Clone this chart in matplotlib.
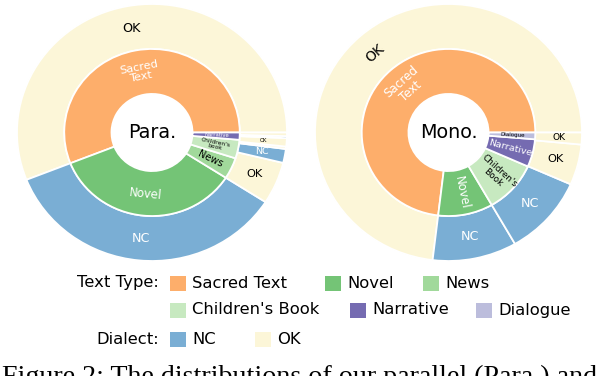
import matplotlib
matplotlib.use("Agg")
import matplotlib.pyplot as plt
from matplotlib.patches import Rectangle

# ---------------- data ----------------
type_names = ["Sacred Text", "Novel", "News", "Children's Book", "Narrative", "Dialogue"]
dialect_names = ["NC", "OK"]

# Parallel (Para.) corpus: inner ring = text type, outer ring = dialect split
para_types = ["Sacred Text", "Novel", "News", "Children's Book", "Narrative"]
para_type_vals = [56.0, 34.9, 4.1, 3.6, 1.4]
para_type_labels = ["Sacred\nText", "Novel", "News", "Children's\nbook", "Narrative"]
para_dialects = ["OK", "NC", "OK", "NC", "OK", "OK", "NC", "OK"]
para_dialect_vals = [56.0, 34.9, 5.3, 1.75, 0.3, 1.05, 0.25, 0.45]
para_dialect_labels = ["OK", "NC", "OK", "NC", "", "OK", "", ""]

# Monolingual (Mono.) corpus
mono_types = ["Sacred Text", "Novel", "Children's Book", "Narrative", "Dialogue"]
mono_type_vals = [73.1, 10.2, 10.05, 5.35, 1.3]
mono_type_labels = ["Sacred\nText", "Novel", "Children's\nBook", "Narrative", "Dialogue"]
mono_dialects = ["OK", "NC", "NC", "OK", "OK"]
mono_dialect_vals = [73.1, 10.2, 10.1, 5.1, 1.5]
mono_dialect_labels = ["OK", "NC", "NC", "OK", "OK"]

# ---------------- style ----------------
type_colors = {
    "Sacred Text": "#fdae6b",
    "Novel": "#74c476",
    "News": "#a1d99b",
    "Children's Book": "#c7e9c0",
    "Narrative": "#756bb1",
    "Dialogue": "#bcbddc",
}
type_text_colors = {
    "Sacred Text": "white", "Novel": "white", "News": "black",
    "Children's Book": "black", "Narrative": "white", "Dialogue": "black",
}
dialect_colors = {"NC": "#7aaed4", "OK": "#fcf6d8"}
dialect_text_colors = {"NC": "white", "OK": "black"}

# per-label (fontsize, rotation mode)
para_type_style = [(8.2, "tan"), (8.3, "tan"), (7.0, "rad"), (4.3, "rad"), (3.8, "rad")]
para_dialect_style = [(9.2, "h"), (9.2, "h"), (8.2, "h"), (6.8, "h"), (4, "h"), (3.8, "h"), (4, "h"), (4, "h")]
mono_type_style = [(8.6, "tan"), (8.5, "rad"), (6.4, "rad"), (6.8, "rad"), (4.0, "rad")]
mono_dialect_style = [(10.0, "tan"), (9.2, "h"), (9.2, "h"), (8.2, "h"), (6.6, "h")]

W, H = 604, 376
fig = plt.figure(figsize=(W / 100, H / 100), dpi=100)


def px_axes(x0, y0, x1, y1):
    """axes from pixel box (top-left origin)"""
    return fig.add_axes([x0 / W, 1 - y1 / H, (x1 - x0) / W, (y1 - y0) / H])


def norm_rot(a):
    a = a % 360
    if a > 90 and a <= 270:
        a -= 180
    elif a > 270:
        a -= 360
    return a


def add_labels(ax, wedges, labels, colors, styles, r):
    import math
    for w, lab, col, (fs, mode) in zip(wedges, labels, colors, styles):
        if not lab:
            continue
        mid = (w.theta1 + w.theta2) / 2
        x = r * math.cos(math.radians(mid))
        y = r * math.sin(math.radians(mid))
        if mode == "tan":
            rot = norm_rot(mid - 90)
        elif mode == "rad":
            rot = norm_rot(mid)
        else:
            rot = 0
        ax.text(x, y, lab, ha="center", va="center", fontsize=fs, color=col,
                rotation=rot, rotation_mode="anchor", linespacing=1.0)


def donut(ax, tnames, tvals, tlabels, tstyle, dnames, dvals, dlabels, dstyle, center_text):
    wp = dict(edgecolor="white", linewidth=1.3)
    outer, _ = ax.pie(dvals, radius=1.0, startangle=0, counterclock=True,
                      colors=[dialect_colors[d] for d in dnames],
                      wedgeprops=dict(width=0.35, **wp))
    inner, _ = ax.pie(tvals, radius=0.65, startangle=0, counterclock=True,
                      colors=[type_colors[t] for t in tnames],
                      wedgeprops=dict(width=0.35, **wp))
    add_labels(ax, outer, dlabels, [dialect_text_colors[d] for d in dnames], dstyle, 0.825)
    add_labels(ax, inner, tlabels, [type_text_colors[t] for t in tnames], tstyle, 0.48)
    ax.text(0, 0, center_text, ha="center", va="center", fontsize=13.8, color="black")
    ax.set_aspect("auto")
    ax.set_xlim(-1, 1)
    ax.set_ylim(-1, 1)
    ax.axis("off")


ax1 = px_axes(17, 4, 287, 261)
donut(ax1, para_types, para_type_vals, para_type_labels, para_type_style,
      para_dialects, para_dialect_vals, para_dialect_labels, para_dialect_style, "Para.")

ax2 = px_axes(315, 4, 582, 261)
donut(ax2, mono_types, mono_type_vals, mono_type_labels, mono_type_style,
      mono_dialects, mono_dialect_vals, mono_dialect_labels, mono_dialect_style, "Mono.")

# ---------------- legend (manual) ----------------
lg = fig.add_axes([0, 0, 1, 1])
lg.set_xlim(0, W)
lg.set_ylim(H, 0)
lg.axis("off")
lfs = 11.8

legend_rows = [
    ("Text Type:", 283, [("Sacred Text", 170), ("Novel", 325), ("News", 423)], type_colors),
    ("", 310, [("Children's Book", 170), ("Narrative", 350), ("Dialogue", 476)], type_colors),
    ("Dialect:", 339, [("NC", 170), ("OK", 255)], dialect_colors),
]
for title, yc, items, cmap in legend_rows:
    if title:
        lg.text(159, yc, title, ha="right", va="center", fontsize=lfs)
    for name, x in items:
        lg.add_patch(Rectangle((x, yc - 7.5), 16, 15, facecolor=cmap[name], edgecolor="none"))
        lg.text(x + 22, yc, name, ha="left", va="center", fontsize=lfs)

# caption (cut off at the bottom in the reference)
lg.text(2, 384, "Figure 2: The distributions of our parallel (Para.) and",
        ha="left", va="baseline", fontsize=20.2, family="Liberation Serif", clip_on=False)

fig.savefig("out.png", dpi=100)
